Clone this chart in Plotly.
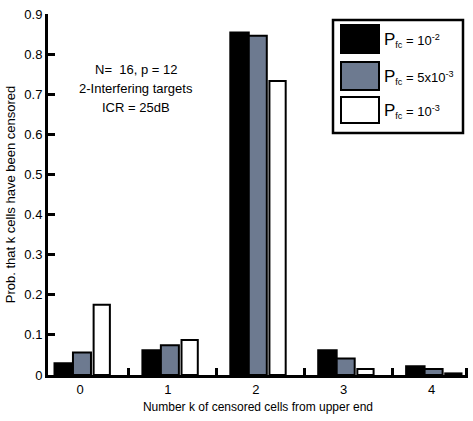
import plotly.graph_objects as go

categories = [0, 1, 2, 3, 4]
pfc_1e2 = [0.029, 0.062, 0.854, 0.062, 0.022]
pfc_5e3 = [0.056, 0.074, 0.846, 0.041, 0.015]
pfc_1e3 = [0.175, 0.087, 0.733, 0.015, 0.004]
series_names = ["P<sub>fc</sub> = 10<sup>-2</sup>",
                "P<sub>fc</sub> = 5x10<sup>-3</sup>",
                "P<sub>fc</sub> = 10<sup>-3</sup>"]
y_ticks = [0, 0.1, 0.2, 0.3, 0.4, 0.5, 0.6, 0.7, 0.8, 0.9]
y_ticklabels = ["0", "0.1", "0.2", "0.3", "0.4", "0.5", "0.6", "0.7", "0.8", "0.9"]
minor_x_ticks = [0.55, 1.55, 2.55, 3.55, 4.4]
info_lines = ["N=  16, p = 12", "2-Interfering targets", "ICR = 25dB"]

FONT = "Liberation Sans Narrow, Arial Narrow, Liberation Sans, Arial, sans-serif"
W, H = 473, 421
L, R, T, B = 48, 468, 14, 375
XR = [-0.364, 4.414]
fills = ["#000000", "#6d7a90", "#ffffff"]
offsets = [-0.29, -0.08, 0.155]
widths = [0.21, 0.205, 0.185]

fig = go.Figure()
for vals, name, col, off, wd in zip([pfc_1e2, pfc_5e3, pfc_1e3], series_names, fills, offsets, widths):
    fig.add_trace(go.Bar(x=categories, y=vals, name=name, offset=off, width=wd,
                         marker=dict(color=col, line=dict(color="#000000", width=2)),
                         showlegend=False))

def px(x):
    return (x - L) / (R - L)

def py(y):
    return (B - y) / (B - T)

shapes = []
annotations = []
# legend box
shapes.append(dict(type="rect", xref="paper", yref="paper", x0=px(333), x1=px(463),
                   y0=py(133), y1=py(20), line=dict(color="black", width=2.5),
                   fillcolor="white", layer="above"))
sw_y = [(25, 53), (62, 90), (97, 123)]
for (a, b), col, name in zip(sw_y, fills, series_names):
    shapes.append(dict(type="rect", xref="paper", yref="paper", x0=px(341), x1=px(379),
                       y0=py(b), y1=py(a), line=dict(color="black", width=2),
                       fillcolor=col, layer="above"))
    txt = name.replace("P<sub>", "<span style='font-size:17px'>P</span><sub>")
    annotations.append(dict(xref="paper", yref="paper", x=px(382), y=py((a + b) / 2 + 1),
                            text=txt, showarrow=False, xanchor="left", yanchor="middle",
                            font=dict(family=FONT, size=13, color="black")))
for i, line in enumerate(info_lines):
    annotations.append(dict(xref="paper", yref="paper", x=px(136), y=py(69 + 19 * i),
                            text=line, showarrow=False, xanchor="center", yanchor="middle",
                            font=dict(family=FONT, size=13, color="black")))

fig.update_layout(
    width=W, height=H,
    margin=dict(l=L, r=W - R, t=T, b=H - B),
    paper_bgcolor="white", plot_bgcolor="white",
    barmode="overlay",
    font=dict(family=FONT, size=12, color="black"),
    shapes=shapes, annotations=annotations,
    xaxis=dict(range=XR, tickmode="array", tickvals=categories,
               ticktext=[str(c) for c in categories],
               showline=True, linecolor="black", linewidth=3, showgrid=False, zeroline=False,
               ticks="", tickfont=dict(size=13), mirror=False,
               title=dict(text="Number k of censored cells from upper end",
                          font=dict(size=12), standoff=8)),
    xaxis2=dict(range=XR, overlaying="x", side="bottom", anchor="y", tickmode="array",
                tickvals=minor_x_ticks, ticktext=[""] * len(minor_x_ticks),
                ticks="inside", ticklen=7, tickwidth=3,
                tickcolor="black", showticklabels=True, showline=False,
                showgrid=False, zeroline=False, layer="above traces"),
    yaxis=dict(range=[0, 0.9], tickvals=y_ticks, ticktext=y_ticklabels,
               showline=True, linecolor="black", linewidth=3, showgrid=False, zeroline=False,
               ticks="inside", ticklen=7, tickwidth=3, tickcolor="black",
               tickfont=dict(size=13),
               title=dict(text="Prob. that k cells have been censored",
                          font=dict(size=13), standoff=6)),
)
fig.add_trace(go.Scatter(x=categories, y=pfc_1e2, xaxis="x2", yaxis="y", mode="markers",
                         marker=dict(opacity=0), showlegend=False, hoverinfo="skip"))

fig.write_html("out.html")
